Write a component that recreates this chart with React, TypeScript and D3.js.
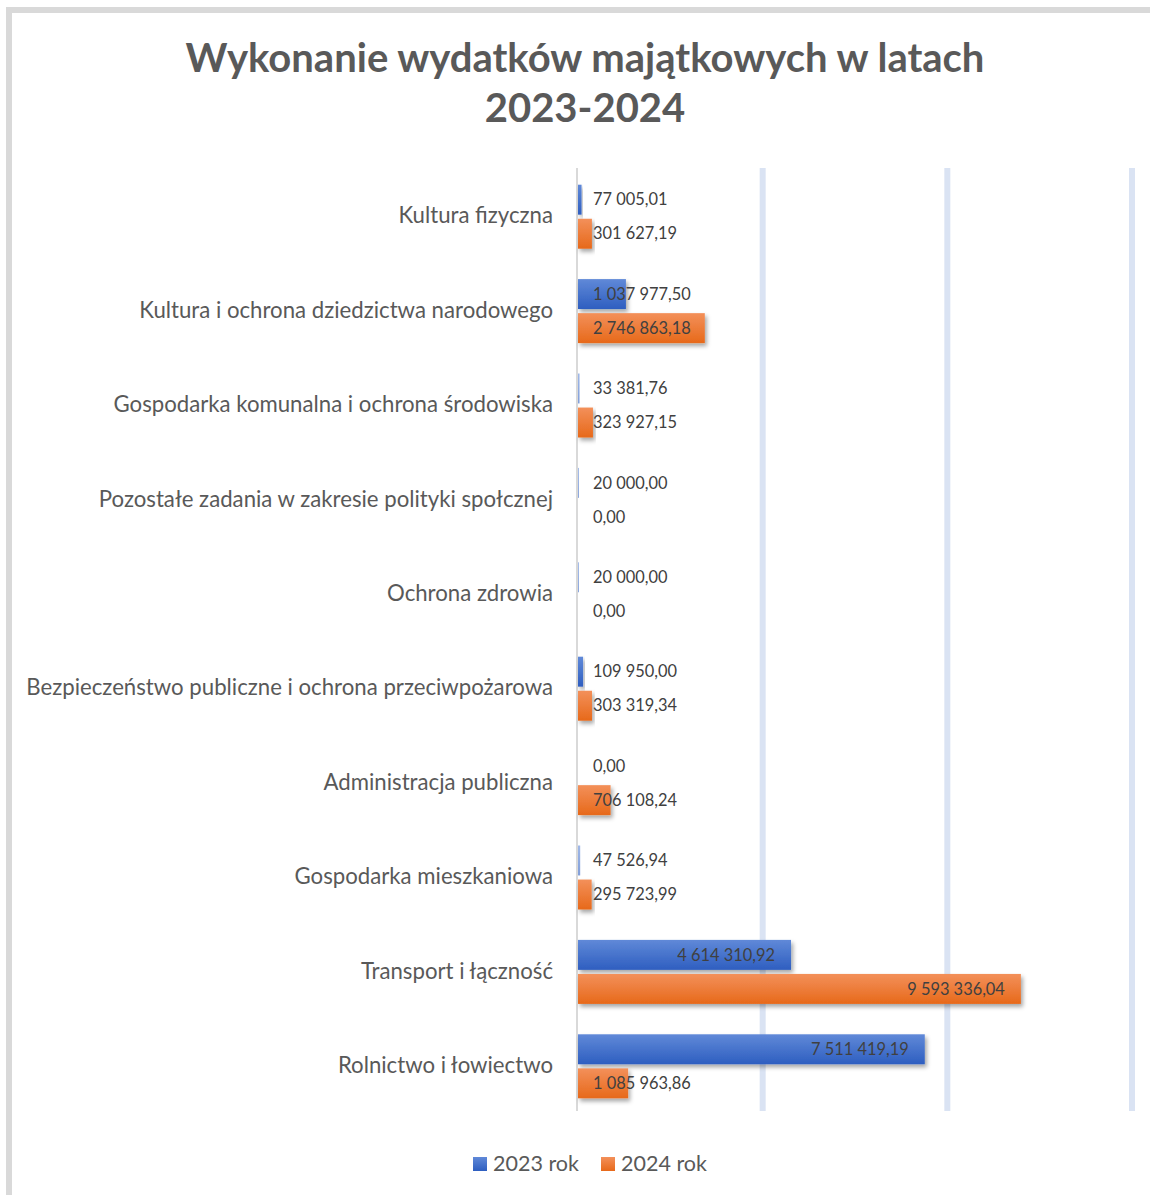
import React, { useEffect, useRef } from "react";
import * as d3 from "d3";

const categories = [
  "Kultura fizyczna",
  "Kultura i ochrona dziedzictwa narodowego",
  "Gospodarka komunalna i ochrona środowiska",
  "Pozostałe zadania w zakresie polityki społcznej",
  "Ochrona zdrowia",
  "Bezpieczeństwo publiczne i ochrona przeciwpożarowa",
  "Administracja publiczna",
  "Gospodarka mieszkaniowa",
  "Transport i łączność",
  "Rolnictwo i łowiectwo",
];
const values2023 = [77005.01, 1037977.5, 33381.76, 20000.0, 20000.0, 109950.0, 0.0, 47526.94, 4614310.92, 7511419.19];
const values2024 = [301627.19, 2746863.18, 323927.15, 0.0, 0.0, 303319.34, 706108.24, 295723.99, 9593336.04, 1085963.86];
const seriesNames = ["2023 rok", "2024 rok"];
const gridTicks = [4000000, 8000000, 12000000];

const W = 1150;
const H = 1195;
const FONT = "Lato, 'Open Sans', sans-serif";

export default function App() {
  const svgRef = useRef<SVGSVGElement>(null);

  useEffect(() => {
    const svg = d3.select(svgRef.current);
    svg.selectAll("*").remove();

    const fmt = d3.formatLocale({ decimal: ",", thousands: " ", grouping: [3], currency: ["", ""] }).format(",.2f");

    const defs = svg.append("defs");
    const grads = [
      { id: "gBlue", top: "#6089d8", bottom: "#2e5ec0" },
      { id: "gOrange", top: "#f3905a", bottom: "#e7691a" },
    ];
    grads.forEach(g => {
      const lg = defs.append("linearGradient").attr("id", g.id).attr("x1", 0).attr("y1", 0).attr("x2", 0).attr("y2", 1);
      lg.append("stop").attr("offset", "0%").attr("stop-color", g.top);
      lg.append("stop").attr("offset", "100%").attr("stop-color", g.bottom);
    });
    const shadow = defs.append("filter").attr("id", "shadow").attr("x", "-20%").attr("y", "-30%").attr("width", "140%").attr("height", "180%");
    shadow.append("feDropShadow").attr("dx", 2).attr("dy", 3).attr("stdDeviation", 2).attr("flood-color", "#000").attr("flood-opacity", 0.35);

    // frame (cropped on right/bottom)
    svg.append("rect").attr("x", 9).attr("y", 10).attr("width", 1170).attr("height", 1210)
      .attr("fill", "#fff").attr("stroke", "#d9d9d9").attr("stroke-width", 6);

    // title
    const title = svg.append("text").attr("text-anchor", "middle").attr("fill", "#595959")
      .style("font-family", FONT).style("font-weight", "bold").style("font-size", "40px");
    title.append("tspan").attr("x", 585).attr("y", 72).text("Wykonanie wydatków majątkowych w latach");
    title.append("tspan").attr("x", 585).attr("y", 122).text("2023-2024");

    const x = d3.scaleLinear().domain([0, 12000000]).range([578, 1132]);
    const y = d3.scaleBand<string>().domain(categories).range([169.5, 1113.5]).paddingInner(0.322).paddingOuter(0.161);
    const ySub = d3.scaleBand<number>().domain([0, 1]).range([0, y.bandwidth()]).paddingInner(0.12);

    // gridlines
    svg.append("g").selectAll("line").data(gridTicks).enter().append("line")
      .attr("x1", d => x(d)).attr("x2", d => x(d)).attr("y1", 168).attr("y2", 1111)
      .attr("stroke", "#dae3f3").attr("stroke-width", 6);
    svg.append("line").attr("x1", 577).attr("x2", 577).attr("y1", 168).attr("y2", 1111)
      .attr("stroke", "#d9d9d9").attr("stroke-width", 2);

    // category labels
    svg.append("g").selectAll("text").data(categories).enter().append("text")
      .attr("x", 553).attr("y", d => (y(d) as number) + y.bandwidth() / 2 - 1)
      .attr("dy", "0.35em").attr("text-anchor", "end").attr("fill", "#595959")
      .style("font-family", FONT).style("font-size", "22.2px").text(d => d);

    const rows = categories.flatMap((c, i) => [
      { cat: c, s: 0, v: values2023[i] },
      { cat: c, s: 1, v: values2024[i] },
    ]);

    svg.append("g").selectAll("rect").data(rows).enter().append("rect")
      .attr("x", x(0)).attr("y", d => (y(d.cat) as number) + (ySub(d.s) as number))
      .attr("width", d => x(d.v) - x(0)).attr("height", ySub.bandwidth())
      .attr("fill", d => (d.s === 0 ? "url(#gBlue)" : "url(#gOrange)"))
      .attr("opacity", d => (d.v < 50000 && d.v > 0 ? 0.6 : 1))
      .attr("filter", d => (d.v > 50000 ? "url(#shadow)" : null));

    const labels = svg.append("g").selectAll("text").data(rows).enter().append("text")
      .attr("y", d => (y(d.cat) as number) + (ySub(d.s) as number) + ySub.bandwidth() / 2)
      .attr("dy", "0.35em").attr("fill", "#404040")
      .style("font-family", FONT).style("font-size", "16.4px").text(d => fmt(d.v));
    labels.each(function (d) {
      const el = this as SVGTextElement;
      const w = el.getComputedTextLength();
      el.setAttribute("x", String(Math.max(593, x(d.v) - 16 - w)));
    });

    // legend
    const leg = svg.append("g");
    const legX = [473, 601];
    seriesNames.forEach((name, i) => {
      leg.append("rect").attr("x", legX[i]).attr("y", 1157).attr("width", 14).attr("height", 14)
        .attr("fill", i === 0 ? "url(#gBlue)" : "url(#gOrange)");
      leg.append("text").attr("x", legX[i] + 20).attr("y", 1171).attr("fill", "#595959")
        .style("font-family", FONT).style("font-size", "21.5px").text(name);
    });
  }, []);

  return (
    <svg ref={svgRef} width={W} height={H} style={{ position: "absolute", left: 0, top: 0, background: "#fff" }} />
  );
}
